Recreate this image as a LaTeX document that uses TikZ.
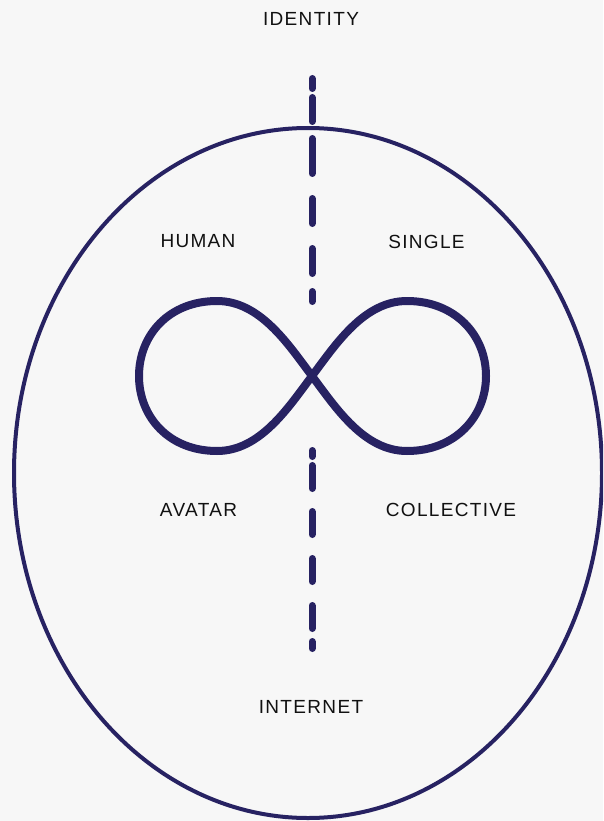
\documentclass[tikz,border=0pt]{standalone}
\usepackage{fontspec}
\setmainfont{Liberation Sans}[LetterSpace=7]
\definecolor{bg}{HTML}{F7F7F7}
\definecolor{navy}{HTML}{272262}
\definecolor{ink}{HTML}{111111}
\tikzset{
  lbl/.style={anchor=base, inner sep=0pt, text=ink, font=\fontsize{19}{21}\selectfont},
  dashseg/.style={draw=navy, line width=7pt, line cap=round},
  rim/.style={draw=navy, line width=4pt},
  loopline/.style={draw=navy, line width=8pt, line join=round}
}
\begin{document}
\begin{tikzpicture}[x=1pt,y=-1pt]
\fill[bg] (0,0) rectangle (603,821);
\useasboundingbox (0,0) rectangle (603,821);
\clip (0,0) rectangle (603,821);
% outer ellipse
\draw[rim] (308,473) ellipse [x radius=294, y radius=345];
% dashed axis, top
\foreach \a/\b in {75/92,94/125,135/177,195/227,245/277,288/305}
  \draw[dashseg] (312,\a+3.5) -- (312,\b-3.5);
% dashed axis, bottom
\foreach \a/\b in {447/460,462/492,508/538,555/585,602/632,638/652}
  \draw[dashseg] (312,\a+3.5) -- (312,\b-3.5);
% infinity sign
\draw[loopline] (312,376)
  .. controls (336,344) and (364,301) .. (407,301)
  .. controls (455,301) and (486,335) .. (486,376)
  .. controls (486,417) and (455,451) .. (407,451)
  .. controls (364,451) and (336,408) .. (312,376)
  .. controls (288,344) and (260,301) .. (217,301)
  .. controls (169,301) and (139,335) .. (139,376)
  .. controls (139,417) and (169,451) .. (217,451)
  .. controls (260,451) and (288,408) .. cycle;
% labels
\node[lbl] (identity) at (311,26) {IDENTITY};
\node[lbl] (human) at (198,247.5) {HUMAN};
\node[lbl] (single) at (426.5,248) {SINGLE};
\node[lbl] (avatar) at (198.5,516.5) {AVATAR};
\node[lbl] (collective) at (451,516.5) {COLLECTIVE};
\node[lbl] (internet) at (311,713.5) {INTERNET};
\end{tikzpicture}
\end{document}
